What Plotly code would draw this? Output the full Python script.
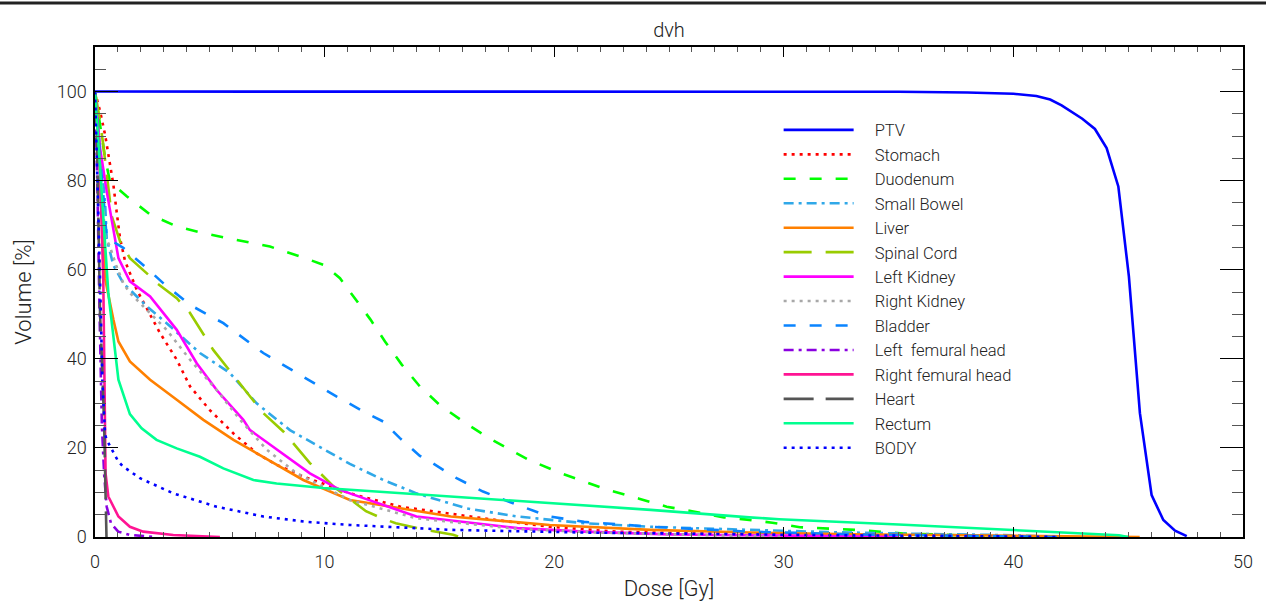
import plotly.graph_objects as go

# ---------------- data ----------------
names = ["PTV", "Stomach", "Duodenum", "Small Bowel", "Liver", "Spinal Cord",
         "Left Kidney", "Right Kidney", "Bladder", "Left  femural head",
         "Right femural head", "Heart", "Rectum", "BODY"]

ptv_dose = [0, 5, 10, 15, 20, 25, 30, 35, 38, 40, 41, 41.6, 42.1, 43.0, 43.55, 44.06,
            44.57, 45.03, 45.51, 46.02, 46.53, 47.04, 47.55]
ptv_vol = [100, 100, 100, 100, 100, 100, 100, 99.95, 99.8, 99.5, 99.0, 98.2, 96.9, 93.9,
           91.6, 87.3, 78.7, 58.5, 27.8, 9.4, 3.8, 1.4, 0.2]

stomach_dose = [0, 0.22, 0.44, 0.65, 0.8, 0.94, 1.09, 1.31, 1.82, 2.83, 3.56, 4.14, 5.0,
                6.02, 7.04, 7.91, 9.07, 11.1, 13.3, 16.9, 19.8, 22.7, 26, 30, 35, 40, 42]
stomach_vol = [100, 95.6, 90.3, 84.3, 79.1, 73.1, 67.1, 61.9, 55.5, 45.8, 39.8, 33.8, 28.5,
               23.3, 18.8, 16.2, 13.6, 9.8, 6.8, 4.2, 2.3, 1.2, 0.8, 0.5, 0.3, 0.1, 0]

duodenum_dose = [0, 0.2, 0.44, 0.65, 1.38, 2.4, 3.56, 4.72, 6.17, 7.62, 9.15, 10.0, 10.67,
                 11.25, 12.0, 12.63, 13.36, 14.15, 15.0, 16.04, 17.06, 18.07, 18.9, 20.2,
                 21.3, 22.2, 23.7, 24.9, 26.0, 27.4, 28.4, 29.5, 30.7, 33.1, 35.2, 38, 40]
duodenum_vol = [100, 93, 85.1, 79.8, 76.5, 72.4, 69.7, 68.2, 66.7, 65.2, 62.6, 61, 58.1,
                54.0, 48.8, 43.9, 38.7, 33.8, 29.7, 25.9, 22.5, 19.6, 17.3, 14.5, 12.4, 10.8,
                8.6, 6.8, 5.8, 4.4, 3.9, 3.2, 2.2, 1.6, 0.8, 0.3, 0]

bowel_dose = [0, 0.2, 0.44, 0.51, 0.8, 1.23, 2.25, 3.12, 4.57, 5.88, 7.04, 8.49, 9.65, 11.1,
              12.56, 14.0, 16.2, 18.4, 21.3, 24.2, 28.5, 32, 36, 40, 42.1]
bowel_vol = [100, 88, 75, 67, 61, 57, 51.8, 48.0, 41.3, 36.8, 30.0, 24.0, 20.6, 16.4, 12.8,
             9.8, 6.4, 4.6, 3.1, 2.3, 1.6, 1.1, 0.7, 0.4, 0]

liver_dose = [0, 0.15, 0.3, 0.44, 0.8, 1.02, 1.52, 2.4, 3.56, 4.72, 6.03, 7.33, 9.07, 11.1,
              15.5, 19.8, 24.2, 28.5, 33, 38, 42, 45.5]
liver_vol = [100, 90, 72, 58, 48.8, 43.9, 39.4, 35.3, 30.8, 26.3, 21.8, 18.0, 12.8, 8.3,
             4.6, 2.7, 1.6, 1.0, 0.6, 0.4, 0.2, 0]

cord_dose = [0, 0.2, 0.36, 0.73, 1.09, 1.52, 2.32, 2.69, 3.56, 4.14, 5.15, 6.17, 6.75, 7.33,
             8.2, 9.36, 10.4, 11.0, 11.8, 12.5, 13.1, 14.4, 15.6, 15.9]
cord_vol = [100, 94, 88, 72, 66.4, 62.6, 58.9, 57.0, 53.6, 50.3, 42.0, 35.3, 31.5, 27.8,
            23.7, 16.6, 11.3, 9.0, 5.8, 4.2, 3.1, 1.6, 0.5, 0]

lkid_dose = [0, 0.2, 0.51, 0.73, 1.02, 1.52, 2.4, 3.56, 4.43, 5.3, 6.46, 6.75, 7.91, 9.36,
             10.67, 11.1, 14.0, 18.4, 21.3, 25, 30, 35]
lkid_vol = [100, 88, 77.6, 70.9, 62.6, 57.4, 54.0, 46.5, 39.0, 33.0, 26.3, 24.0, 19.6, 14.3,
            10.6, 9.8, 4.6, 2.0, 1.2, 0.6, 0.3, 0]

rkid_dose = [0, 0.2, 0.44, 0.65, 0.94, 1.23, 1.52, 2.1, 3.12, 4.14, 5.3, 6.32, 7.48, 8.78,
             11.1, 14.0, 18.4, 22, 26, 30]
rkid_vol = [100, 85, 67.5, 65.2, 60.7, 57.0, 54.8, 51.8, 46.5, 39.8, 33.0, 26.3, 19.6, 14.3,
            8.3, 4.2, 1.8, 1.0, 0.5, 0]

bladder_dose = [0, 0.3, 0.51, 0.73, 1.23, 2.18, 2.97, 4.14, 5.59, 7.33, 9.36, 10.53, 11.83,
                12.56, 13.28, 14.15, 14.6, 15.75, 16.9, 18.4, 19.8, 21.3, 24.2, 28.5, 33, 38, 42]
bladder_vol = [100, 80, 67.1, 66.5, 64.9, 60.7, 57.0, 52.1, 48.0, 41.3, 35.0, 31.5, 27.8,
               25.9, 22.2, 18.2, 16.9, 13.2, 10.2, 7.2, 4.6, 3.4, 2.3, 1.2, 0.6, 0.2, 0]

lfem_dose = [0, 0.1, 0.2, 0.3, 0.4, 0.51, 0.7, 1.01, 1.5, 2.0, 2.54]
lfem_vol = [100, 80, 50, 25, 14, 6.8, 3.0, 1.2, 0.5, 0.2, 0]

rfem_dose = [0, 0.2, 0.36, 0.42, 0.46, 0.58, 1.02, 1.52, 2.1, 3.41, 5.44]
rfem_vol = [100, 85, 58, 30, 14.3, 9.1, 4.6, 2.3, 1.2, 0.45, 0]

heart_dose = [0, 0.05, 0.1, 0.15, 0.22, 0.3, 0.4, 0.45, 0.5]
heart_vol = [100, 95, 85, 70, 50, 40, 25, 12, 0]

rectum_dose = [0, 0.2, 0.44, 0.58, 1.02, 1.52, 2.03, 2.68, 3.56, 4.57, 5.59, 6.9, 7.91, 9.94,
               11.1, 15.5, 19.8, 22.0, 24.2, 28.5, 29.8, 35, 37.5, 40, 44.6, 45]
rectum_vol = [100, 85, 66.7, 54.8, 35.3, 27.6, 24.4, 21.8, 19.9, 18.0, 15.4, 12.8, 12.0, 11.0,
              10.6, 9.1, 7.6, 6.8, 6.1, 4.4, 4.0, 2.8, 2.2, 1.5, 0.4, 0]

body_dose = [0, 0.1, 0.22, 0.32, 0.44, 0.51, 1.02, 1.23, 1.96, 3.41, 5.3, 7.33, 9.22, 11.1,
             15.5, 21.3, 26, 32, 38, 42]
body_vol = [100, 82, 57.8, 35, 23, 21.8, 16.9, 15.8, 13.2, 9.8, 6.8, 4.6, 3.4, 2.7, 1.6, 1.0,
            0.7, 0.4, 0.2, 0]

doses = [ptv_dose, stomach_dose, duodenum_dose, bowel_dose, liver_dose, cord_dose, lkid_dose,
         rkid_dose, bladder_dose, lfem_dose, rfem_dose, heart_dose, rectum_dose, body_dose]
vols = [ptv_vol, stomach_vol, duodenum_vol, bowel_vol, liver_vol, cord_vol, lkid_vol,
        rkid_vol, bladder_vol, lfem_vol, rfem_vol, heart_vol, rectum_vol, body_vol]

x_ticks = [0, 10, 20, 30, 40, 50]
y_ticks = [0, 20, 40, 60, 80, 100]

# ---------------- styles ----------------
colors = ["#0000FF", "#FF0000", "#00FF00", "#30A8E8", "#FF8000", "#99CC00", "#FF00FF",
          "#A8A8A8", "#0A84FF", "#8A00E0", "#FF1493", "#555555", "#00FF90", "#0000FF"]
dashes = ["solid", "3px,5px", "12px,14px", "10px,5px,3px,5px", "solid", "28px,14px",
          "solid", "3px,5px", "12px,14px", "10px,5px,3px,5px", "solid", "30px,12px",
          "solid", "3px,5px"]

FONT = "Roboto"
TXT = "#222222"
PAD = "\u00a0\u00a0\u00a0\u00a0"  # gap between legend sample and label

fig = go.Figure()
for n, xd, yd, c, d in zip(names, doses, vols, colors, dashes):
    fig.add_trace(go.Scatter(x=xd, y=yd, name=PAD + n, mode="lines",
                             line=dict(color=c, width=2.6, dash=d)))

fig.update_layout(
    width=1266, height=601,
    margin=dict(l=95, r=23, t=47, b=64),
    paper_bgcolor="white", plot_bgcolor="white",
    font=dict(family=FONT, size=18, color=TXT, weight=300),
    title=dict(text="dvh", x=0.5, xanchor="center", y=0.95, yanchor="middle",
               xref="paper", font=dict(family=FONT, size=20, color=TXT, weight=300)),
    showlegend=True,
    legend=dict(x=0.5955, y=0.866, xanchor="left", yanchor="top", bgcolor="rgba(0,0,0,0)",
                font=dict(family=FONT, size=16.5, color=TXT, weight=300),
                itemwidth=70, tracegroupgap=0, traceorder="normal"),
)
fig.update_xaxes(range=[0, 50], tickvals=x_ticks, showgrid=False, zeroline=False,
                 showline=True, linecolor="black", linewidth=1.5, mirror="allticks",
                 ticks="inside", ticklen=10, tickwidth=1.3, tickcolor="black",
                 minor=dict(dtick=1, ticks="inside", ticklen=5, tickwidth=1.2,
                            tickcolor="#555555"),
                 ticklabelstandoff=8, automargin=False,
                 title=dict(text="Dose [Gy]", standoff=9),
                 tickfont=dict(size=18))
fig.update_yaxes(range=[0, 110], tickvals=y_ticks, showgrid=False, zeroline=False,
                 showline=True, linecolor="black", linewidth=1.5, mirror="allticks",
                 ticks="inside", ticklen=23, tickwidth=1.3, tickcolor="black",
                 minor=dict(dtick=5, ticks="inside", ticklen=11, tickwidth=1.2,
                            tickcolor="#555555"),
                 ticklabelstandoff=3, automargin=False,
                 title=dict(text="Volume [%]", standoff=19),
                 tickfont=dict(size=18))

# window border line at the very top
fig.add_shape(type="line", xref="paper", yref="paper", x0=-0.1, x1=1.1,
              y0=1.0898, y1=1.0898, line=dict(color="#222222", width=3))

fig.write_html("out.html", config={"displayModeBar": False},
               post_script="document.body.style.margin='0';")
